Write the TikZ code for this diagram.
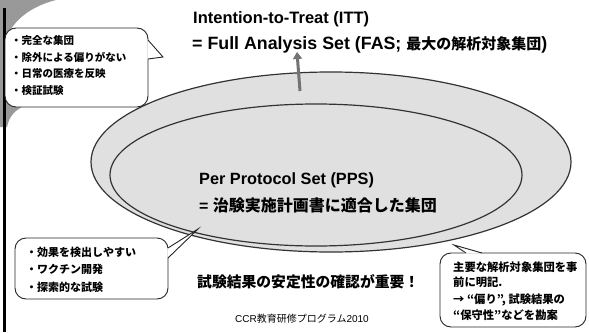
\documentclass[tikz,border=0pt]{standalone}
\usepackage{fontspec}
\setmainfont{Liberation Sans}
\newfontfamily\jp{Noto Sans CJK JP}
\usetikzlibrary{arrows.meta}
\begin{document}
\begin{tikzpicture}[x=1pt,y=-1pt,
  ell/.style={draw=black!80, line width=1.2pt, fill=black!12},
  callout/.style={draw=black!85, line width=0.9pt, fill=white, rounded corners=11pt},
  tail/.style={draw=black!85, line width=0.9pt, line join=miter},
  lbl/.style={anchor=west, inner sep=0pt},
  jpb/.style={lbl, font=\jp\bfseries\fontsize{#1}{#1}\selectfont},
  lab/.style={lbl, font=\bfseries\fontsize{#1}{#1}\selectfont},
]
\useasboundingbox (0,0) rectangle (589,332);
\fill[white] (0,0) rectangle (589,332);
% corner decoration and left border
\fill[black!40] (0,0) -- (56,0) .. controls (32,6) and (12,20) .. (6,40) -- (6,100) -- (24,106) .. controls (13,111) and (9,118) .. (7,127) -- (0,127) -- cycle;
\draw[line width=3pt] (4,8) -- (4,332);
% ellipses
\draw[ell] (331,162) ellipse [x radius=240, y radius=90];
\draw[ell] (316,175) ellipse [x radius=206, y radius=71];
% arrow
\coordinate (abase) at (300,91);
\coordinate (atip) at (297,52);
\draw[-{Triangle[width=9pt,length=7pt]}, line width=3pt, black!55] (abase) -- (atip);
% titles
\node[lab=16.5] (itt) at (193,19) {Intention-to-Treat (ITT)};
\node[lab=17.8] (fas) at (192,45) {= Full Analysis Set (FAS; {\jp\fontsize{15}{18}\selectfont 最大の解析対象集団})};
% PPS
\node[lab=16.3] (pps) at (199,180) {Per Protocol Set (PPS)};
\node[lab=16] (ppsj) at (199,205) {= {\jp 治験実施計画書に適合した集団}};
% callout 1
\draw[callout] (5,28) rectangle (148,107);
\coordinate (c1tip) at (163,57);
\fill[white] (147.3,40) -- (c1tip) -- (147.3,59) -- cycle;
\draw[tail] (148,40) -- (c1tip) -- (148,59);
\node[jpb=10.5] (c1a) at (11,40) {・完全な集団};
\node[jpb=10.5] (c1b) at (11,57) {・除外による偏りがない};
\node[jpb=10.5] (c1c) at (11,74) {・日常の医療を反映};
\node[jpb=10.5] (c1d) at (11,91) {・検証試験};
% callout 2
\draw[callout] (15,238) rectangle (168,299);
\coordinate (c2tip) at (198,229);
\fill[white] (167.3,248) -- (c2tip) -- (167.3,258) -- cycle;
\draw[tail] (168,248) -- (c2tip) -- (168,258);
\node[jpb=11] (c2a) at (26,252) {・効果を検出しやすい};
\node[jpb=11] (c2b) at (26,269) {・ワクチン開発};
\node[jpb=11] (c2c) at (26,287) {・探索的な試験};
% callout 3
\draw[callout] (440,253) rectangle (586,327);
\coordinate (c3tip) at (454,245);
\fill[white] (465.5,253.7) -- (c3tip) -- (482.5,253.7) -- cycle;
\draw[tail] (466,253) -- (c3tip) -- (482,253);
\node[jpb=11.3] (c3a) at (453,267) {主要な解析対象集団を事};
\node[jpb=11.3] (c3b) at (453,282) {前に明記.};
\node[jpb=11.3] (c3c) at (453,300) {→ “偏り”, 試験結果の};
\node[jpb=11.3] (c3d) at (453,315) {“保守性”などを勘案};
% bottom texts
\node[jpb=14.8] (imp) at (197,282) {試験結果の安定性の確認が重要！};
\node[lbl, font=\fontsize{10}{12}\selectfont] (ccr) at (235,319) {CCR{\jp 教育研修プログラム}2010};
\end{tikzpicture}
\end{document}
